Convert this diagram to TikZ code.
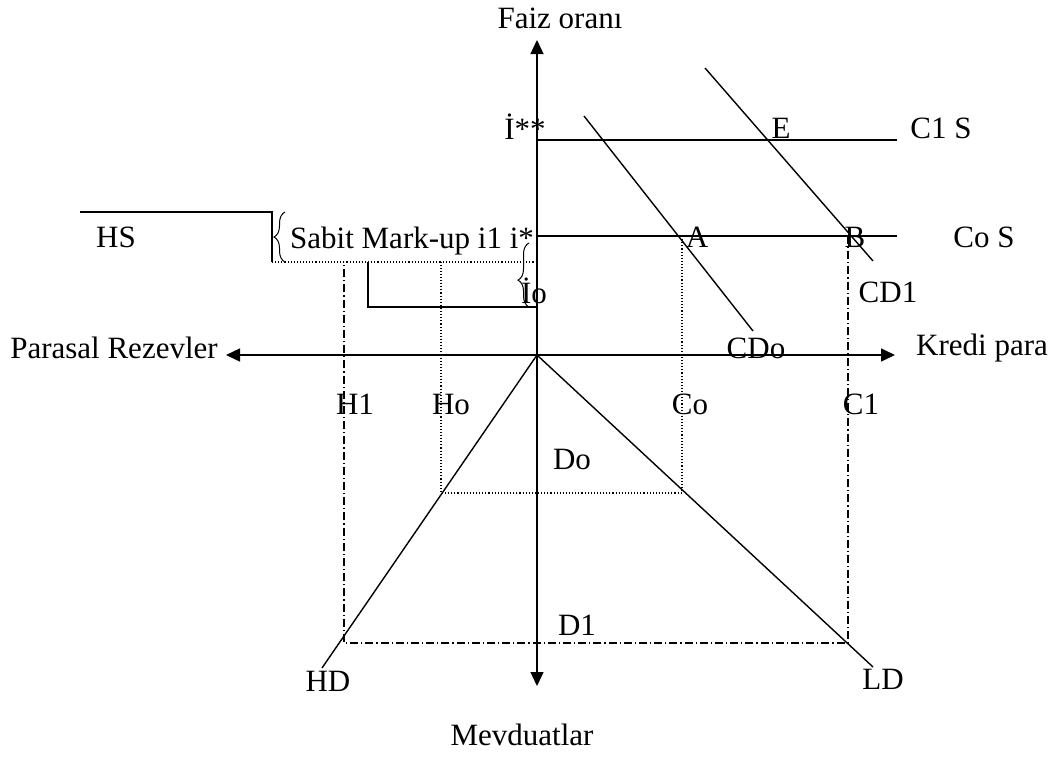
\documentclass[tikz,border=0pt]{standalone}
\usepackage{fontspec}
\setmainfont{Liberation Serif}
\usetikzlibrary{arrows.meta,decorations.pathreplacing}

\tikzset{
  curve/.style={line width=1.4pt},
  axis/.style={line width=1.4pt,-{Triangle[length=14pt,width=13pt]}},
  guide/.style={line width=1.1pt,dotted},
  guidedd/.style={line width=1.1pt,dash pattern=on 8pt off 3pt on 1.2pt off 3pt},
  lbl/.style={inner sep=0pt},
  curly/.style={line width=1pt,decorate,decoration={brace,amplitude=11pt}},
}

\begin{document}
\begin{tikzpicture}[x=1pt,y=-1pt,font=\fontsize{31}{36}\selectfont]
        \useasboundingbox (0,0) rectangle (1060,756);

        % axes
        \coordinate (O) at (537,355);
        \coordinate (top) at (537,40);
        \coordinate (bot) at (537,686);
        \coordinate (lft) at (226,355);
        \coordinate (rgt) at (895,355);
        \draw[axis] (O) -- (top);
        \draw[axis] (O) -- (bot);
        \draw[axis] (O) -- (lft);
        \draw[axis] (O) -- (rgt);

        \node[lbl] (faiz) at (560,18) {Faiz oranı};
        \node[lbl] (kredi) at (982,348) {Kredi para};
        \node[lbl] (mevd) at (522,735) {Mevduatlar};
        \node[lbl] (rez) at (114,348) {Parasal Rezevler};

        % supply lines
        \coordinate (iss) at (537,140);
        \coordinate (is) at (537,236);
        \coordinate (io) at (537,307);
        \draw[curve] (iss) -- (897,140);
        \draw[curve] (is) -- (897,236);
        \draw[curve] (80,212) -- (272,212) -- (272,262);
        \draw[guide] (272,262) -- (537,262);
        \draw[curve] (368,262) -- (368,307) -- (io);

        % demand lines
        \draw[curve] (584,116) -- (753,331);
        \draw[curve] (705,68) -- (873,261);
        \draw[curve] (O) -- (322,668);
        \draw[curve] (O) -- (873,667);

        % guides
        \coordinate (A) at (682,236);
        \coordinate (B) at (848,236);
        \draw[guide] (A) -- (682,493) -- (441,493) -- (441,262);
        \draw[guidedd] (B) -- (848,643) -- (344,643) -- (344,262);

        % braces
        \draw[curly] (285,262) -- (285,212);
        \draw[curly,decoration={aspect=0.42}] (529,307) -- (529,243);

        \node[lbl] (lIss) at (525,127) {İ**};
        \node[lbl] (lE) at (781,128) {E};
        \node[lbl] (lC1S) at (941,128) {C1 S};
        \node[lbl] (lHS) at (116,237) {HS};
        \node[lbl,anchor=base west] (lSabit) at (290,248) {Sabit Mark-up i1 i*};
        \node[lbl] (lA) at (697,237) {A};
        \node[lbl] (lB) at (855,237) {B};
        \node[lbl] (lCoS) at (984,237) {Co S};
        \node[lbl,anchor=base] (lIo) at (534,303) {İo};
        \node[lbl] (lCD1) at (888,292) {CD1};
        \node[lbl] (lCDo) at (756,348) {CDo};
        \node[lbl] (lH1) at (355,404) {H1};
        \node[lbl] (lHo) at (451,404) {Ho};
        \node[lbl] (lCo) at (690,404) {Co};
        \node[lbl] (lC1) at (861,404) {C1};
        \node[lbl] (lDo) at (572,459) {Do};
        \node[lbl] (lD1) at (577,625) {D1};
        \node[lbl] (lHD) at (328,681) {HD};
        \node[lbl] (lLD) at (883,679) {LD};
\end{tikzpicture}
\end{document}
